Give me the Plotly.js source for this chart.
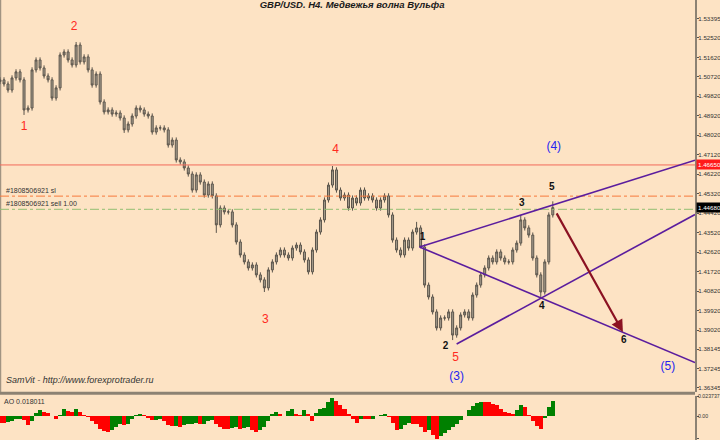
<!DOCTYPE html>
<html>
<head>
<meta charset="utf-8">
<script src="https://cdn.plot.ly/plotly-3.0.1.min.js"></script>
<style>html,body{margin:0;padding:0;background:#FDE3C4;}#chart{width:720px;height:440px;}</style>
</head>
<body>
<div id="chart"></div>
<script>
// ---- Candles (H4 bars) ----
const barOpen = [1.5050,1.5058,1.5039,1.5011,1.5067,1.5095,1.5058,1.4919,1.4928,1.5104,
1.5150,1.5113,1.5076,1.5058,1.4974,1.5021,1.5173,1.5187,1.5150,1.5127,
1.5219,1.5141,1.5164,1.5104,1.5034,1.5085,1.4956,1.4910,1.4919,1.4900,
1.4905,1.4882,1.4827,1.4854,1.4891,1.4928,1.4919,1.4900,1.4891,1.4817,
1.4836,1.4836,1.4827,1.4757,1.4780,1.4688,1.4679,1.4651,1.4623,1.4549,
1.4619,1.4586,1.4526,1.4577,1.4522,1.4388,1.4466,1.4448,1.4448,1.4388,
1.4309,1.4249,1.4217,1.4189,1.4203,1.4157,1.4134,1.4097,1.4180,1.4217,
1.4249,1.4272,1.4249,1.4235,1.4281,1.4295,1.4263,1.4226,1.4171,1.4272,
1.4355,1.4411,1.4503,1.4572,1.4642,1.4549,1.4512,1.4526,1.4466,1.4512,
1.4489,1.4549,1.4512,1.4522,1.4503,1.4466,1.4503,1.4522,1.4434,1.4318,
1.4272,1.4249,1.4318,1.4281,1.4355,1.4374,1.4286,1.4110,1.4055,1.3986,
1.3912,1.3958,1.3958,1.3986,1.3879,1.3912,1.3972,1.3986,1.3958,1.4064,
1.4110,1.4157,1.4189,1.4235,1.4217,1.4263,1.4235,1.4217,1.4217,1.4272,
1.4304,1.4411,1.4374,1.4341,1.4235,1.4157,1.4078,1.4217,1.4434];
const barHigh = [1.5070,1.5070,1.5051,1.5079,1.5107,1.5107,1.5070,1.4940,1.5116,1.5162,
1.5162,1.5125,1.5088,1.5070,1.5033,1.5185,1.5199,1.5199,1.5162,1.5233,
1.5231,1.5176,1.5176,1.5116,1.5097,1.5097,1.4968,1.4931,1.4931,1.4917,
1.4917,1.4894,1.4866,1.4903,1.4940,1.4940,1.4931,1.4912,1.4903,1.4848,
1.4848,1.4848,1.4839,1.4792,1.4792,1.4700,1.4691,1.4663,1.4635,1.4631,
1.4631,1.4598,1.4589,1.4589,1.4534,1.4478,1.4478,1.4460,1.4460,1.4400,
1.4321,1.4261,1.4229,1.4215,1.4215,1.4169,1.4146,1.4192,1.4229,1.4261,
1.4284,1.4284,1.4261,1.4293,1.4307,1.4307,1.4275,1.4238,1.4284,1.4367,
1.4423,1.4515,1.4584,1.4660,1.4654,1.4561,1.4538,1.4538,1.4524,1.4524,
1.4561,1.4561,1.4534,1.4534,1.4515,1.4515,1.4534,1.4534,1.4446,1.4330,
1.4284,1.4330,1.4330,1.4367,1.4402,1.4386,1.4298,1.4122,1.4067,1.3998,
1.3970,1.3970,1.3998,1.3998,1.3924,1.3984,1.3998,1.3998,1.4076,1.4122,
1.4169,1.4201,1.4247,1.4247,1.4275,1.4275,1.4247,1.4229,1.4284,1.4316,
1.4434,1.4423,1.4386,1.4353,1.4247,1.4169,1.4229,1.4446,1.4497];
const barLow = [1.5038,1.5027,1.4999,1.4999,1.5055,1.5046,1.4896,1.4907,1.4916,1.5092,
1.5101,1.5064,1.5046,1.4962,1.4962,1.5009,1.5161,1.5138,1.5115,1.5115,
1.5129,1.5129,1.5092,1.5022,1.5022,1.4944,1.4898,1.4898,1.4888,1.4888,
1.4870,1.4813,1.4815,1.4842,1.4879,1.4907,1.4888,1.4879,1.4805,1.4805,
1.4824,1.4815,1.4745,1.4745,1.4676,1.4667,1.4639,1.4611,1.4537,1.4537,
1.4574,1.4514,1.4514,1.4510,1.4351,1.4376,1.4436,1.4436,1.4376,1.4297,
1.4237,1.4205,1.4177,1.4177,1.4145,1.4122,1.4078,1.4085,1.4168,1.4205,
1.4237,1.4237,1.4223,1.4223,1.4269,1.4251,1.4214,1.4159,1.4159,1.4260,
1.4343,1.4399,1.4491,1.4560,1.4537,1.4500,1.4500,1.4454,1.4454,1.4477,
1.4477,1.4500,1.4500,1.4491,1.4454,1.4454,1.4491,1.4422,1.4306,1.4260,
1.4237,1.4237,1.4269,1.4269,1.4343,1.4280,1.4098,1.4043,1.3974,1.3900,
1.3900,1.3946,1.3946,1.3856,1.3867,1.3900,1.3960,1.3946,1.3946,1.4052,
1.4098,1.4145,1.4177,1.4205,1.4205,1.4223,1.4205,1.4205,1.4205,1.4260,
1.4292,1.4362,1.4329,1.4223,1.4145,1.4050,1.4066,1.4205,1.4422];
const barClose = [1.5058,1.5039,1.5011,1.5067,1.5095,1.5058,1.4919,1.4928,1.5104,1.5150,
1.5113,1.5076,1.5058,1.4974,1.5021,1.5173,1.5187,1.5150,1.5127,1.5219,
1.5141,1.5164,1.5104,1.5034,1.5085,1.4956,1.4910,1.4919,1.4900,1.4905,
1.4882,1.4827,1.4854,1.4891,1.4928,1.4919,1.4900,1.4891,1.4817,1.4836,
1.4836,1.4827,1.4757,1.4780,1.4688,1.4679,1.4651,1.4623,1.4549,1.4619,
1.4586,1.4526,1.4577,1.4522,1.4388,1.4466,1.4448,1.4448,1.4388,1.4309,
1.4249,1.4217,1.4189,1.4203,1.4157,1.4134,1.4097,1.4180,1.4217,1.4249,
1.4272,1.4249,1.4235,1.4281,1.4295,1.4263,1.4226,1.4171,1.4272,1.4355,
1.4411,1.4503,1.4572,1.4642,1.4549,1.4512,1.4526,1.4466,1.4512,1.4489,
1.4549,1.4512,1.4522,1.4503,1.4466,1.4503,1.4522,1.4434,1.4318,1.4272,
1.4249,1.4318,1.4281,1.4355,1.4374,1.4286,1.4110,1.4055,1.3986,1.3912,
1.3958,1.3958,1.3986,1.3879,1.3912,1.3972,1.3986,1.3958,1.4064,1.4110,
1.4157,1.4189,1.4235,1.4217,1.4263,1.4235,1.4217,1.4217,1.4272,1.4304,
1.4411,1.4374,1.4341,1.4235,1.4157,1.4078,1.4217,1.4434,1.4468];

// ---- Awesome Oscillator ----
const aoValues = [-0.0075,-0.0075,-0.0072,-0.0057,-0.0038,-0.0026,-0.0049,-0.0106,-0.0057,0.0038,
0.0075,0.0057,0.0038,0.0000,-0.0026,0.0019,0.0094,0.0064,0.0049,0.0087,
0.0057,0.0019,-0.0004,-0.0057,-0.0094,-0.0151,-0.0177,-0.0189,-0.0162,-0.0132,
-0.0087,-0.0102,-0.0087,-0.0038,0.0011,0.0034,0.0019,-0.0019,-0.0049,-0.0041,
-0.0026,-0.0057,-0.0102,-0.0117,-0.0113,-0.0124,-0.0109,-0.0094,-0.0087,-0.0079,
-0.0094,-0.0087,-0.0057,-0.0049,-0.0094,-0.0124,-0.0147,-0.0147,-0.0139,-0.0132,
-0.0151,-0.0143,-0.0132,-0.0162,-0.0189,-0.0170,-0.0132,-0.0057,0.0026,0.0057,
0.0026,0.0004,0.0064,0.0087,0.0026,0.0019,0.0072,0.0026,-0.0057,0.0038,
0.0087,0.0102,0.0170,0.0222,0.0189,0.0139,0.0094,0.0026,-0.0026,-0.0075,
-0.0026,-0.0026,-0.0038,-0.0026,0.0008,0.0019,0.0026,-0.0011,-0.0075,-0.0170,
-0.0151,-0.0102,-0.0075,-0.0087,-0.0094,-0.0132,-0.0189,-0.0170,-0.0226,-0.0275,
-0.0238,-0.0200,-0.0162,-0.0132,-0.0094,-0.0049,0.0000,0.0075,0.0124,0.0162,
0.0177,0.0177,0.0170,0.0151,0.0132,0.0094,0.0057,0.0038,0.0026,0.0075,
0.0132,0.0113,0.0019,-0.0057,-0.0113,-0.0151,-0.0019,0.0113,0.0180];

// ---- Price axis ticks ----
const priceTicks = [1.53395,1.52520,1.51620,1.50720,1.49820,1.48920,1.48020,1.47120,1.46220,1.45320,
1.44420,1.43520,1.42620,1.41720,1.40820,1.39920,1.39020,1.38145,1.37245,1.36345];
const priceTickText = ['1.53395','1.52520','1.51620','1.50720','1.49820','1.48920','1.48020','1.47120','1.46220','1.45320',
'1.44420','1.43520','1.42620','1.41720','1.40820','1.39920','1.39020','1.38145','1.37245','1.36345'];
const aoTicks = [0.023737, 0, -0.027121];
const aoTickText = ['0.023737','0.00','-0.027121'];

// ---- Levels ----
const resistLevel = 1.4665;
const slLevel = 1.4521;
const sellLevel = 1.4460;
const bidPrice = 1.4468;

// ---- Wolfe wave lines (bar index, price) ----
const line13X = [104.75, 173.5];
const line13Y = [1.4286, 1.4687];
const line14X = [104.75, 173.5];
const line14Y = [1.4286, 1.3752];
const line24X = [114, 173.5];
const line24Y = [1.3838, 1.4436];
const arrowX = [138.75, 155.5];
const arrowY = [1.4448, 1.3893];

// ---- Wave labels ----
const redLabelX = [6, 18.5, 66.25, 83.75, 113.75];
const redLabelY = [1.4840, 1.5302, 1.3949, 1.4734, 1.3773];
const redLabelText = ['1','2','3','4','5'];
const blackLabelX = [105.5, 111.25, 130.25, 135.25, 137.75, 155.75];
const blackLabelY = [1.4332, 1.3824, 1.4485, 1.4009, 1.4559, 1.3852];
const blackLabelText = ['1','2','3','4','5','6'];
const blueLabelX = [114, 138.25, 166.75];
const blueLabelY = [1.3685, 1.4748, 1.3732];
const blueLabelText = ['(3)','(4)','(5)'];

const xRange = [0, 173.5];
const FONT = 'Liberation Sans, Arial, sans-serif';
const BG = '#FDE3C4';

const barIdx = barClose.map((_, i) => i);
const aoColors = aoValues.map((v, i) => (i > 0 && v > aoValues[i-1]) ? '#008000' : '#FF0000');

const traces = [
  {type:'scatter', mode:'lines', x:xRange, y:[resistLevel,resistLevel], line:{color:'#F2695A', width:1}, hoverinfo:'skip'},
  {type:'scatter', mode:'lines', x:xRange, y:[slLevel,slLevel], line:{color:'#F7793C', width:1, dash:'dashdot'}, hoverinfo:'skip'},
  {type:'scatter', mode:'lines', x:xRange, y:[sellLevel,sellLevel], line:{color:'#93BF72', width:1, dash:'dashdot'}, hoverinfo:'skip'},
  {type:'candlestick', x:barIdx, open:barOpen, high:barHigh, low:barLow, close:barClose,
   increasing:{line:{color:'#5a544b', width:1}, fillcolor:'#a79e8e'},
   decreasing:{line:{color:'#5a544b', width:1}, fillcolor:'#a79e8e'},
   whiskerwidth:0, hoverinfo:'skip'},
  {type:'scatter', mode:'lines', x:line13X, y:line13Y, line:{color:'#5B1D9E', width:1.6}, hoverinfo:'skip'},
  {type:'scatter', mode:'lines', x:line14X, y:line14Y, line:{color:'#5B1D9E', width:1.6}, hoverinfo:'skip'},
  {type:'scatter', mode:'lines', x:line24X, y:line24Y, line:{color:'#5B1D9E', width:1.6}, hoverinfo:'skip'},
  {type:'scatter', mode:'text', x:redLabelX, y:redLabelY, text:redLabelText, textfont:{family:FONT, size:12, color:'#FF2A1E'}, hoverinfo:'skip'},
  {type:'scatter', mode:'text', x:blackLabelX, y:blackLabelY, text:blackLabelText, textfont:{family:FONT, size:10, color:'#111', weight:'bold'}, hoverinfo:'skip'},
  {type:'scatter', mode:'text', x:blueLabelX, y:blueLabelY, text:blueLabelText, textfont:{family:FONT, size:12, color:'#2424F0'}, hoverinfo:'skip'},
  {type:'bar', x:barIdx, y:aoValues, xaxis:'x2', yaxis:'y2', width:1, marker:{color:aoColors, line:{width:0}}, hoverinfo:'skip'}
];

const axisFont = {family:FONT, size:6.2, color:'#333'};
const aoAxisFont = {family:FONT, size:5.2, color:'#333'};

const layout = {
  width:720, height:440,
  paper_bgcolor:BG, plot_bgcolor:BG,
  margin:{l:0, r:25, t:0, b:0},
  showlegend:false,
  bargap:0,
  font:{family:FONT, color:'#222'},
  title:{text:'GBP/USD. H4. Медвежья волна Вульфа', x:0.489, xanchor:'center', y:0.997, yanchor:'top',
         font:{family:FONT, size:9.5, weight:'bold', style:'italic', color:'#1a1a1a'}},
  xaxis:{domain:[0,1], range:xRange, visible:false, showgrid:false, zeroline:false, rangeslider:{visible:false}, fixedrange:true},
  xaxis2:{domain:[0,1], anchor:'y2', range:xRange, visible:false, showgrid:false, zeroline:false, fixedrange:true},
  yaxis:{domain:[0.1091,1], range:[1.3616,1.5427], side:'right', tickvals:priceTicks, ticktext:priceTickText,
         tickfont:axisFont, ticks:'outside', ticklen:2, tickcolor:'#555', ticklabelstandoff:-2,
         showgrid:false, zeroline:false, showline:true, linecolor:'#8c8273', linewidth:2, fixedrange:true},
  yaxis2:{domain:[0,0.1000], range:[-0.0285,0.0245], side:'right', tickvals:aoTicks, ticktext:aoTickText,
          tickfont:aoAxisFont, ticks:'outside', ticklen:2, tickcolor:'#555', ticklabelstandoff:-2,
          showgrid:false, zeroline:false, showline:true, linecolor:'#8c8273', linewidth:2, fixedrange:true},
  shapes:[
    {type:'line', layer:'below', xref:'paper', yref:'paper', x0:0, x1:1, y0:0.1063, y1:0.1063, line:{color:'#8c8273', width:3}},
    {type:'line', layer:'below', xref:'paper', yref:'paper', x0:0.001, x1:0.001, y0:0.1091, y1:1, line:{color:'#8c8273', width:1}}
  ],
  annotations:[
    {xref:'x', yref:'y', x:arrowX[1], y:arrowY[1], ax:arrowX[0], ay:arrowY[0], axref:'x', ayref:'y',
     text:'', showarrow:true, arrowhead:2, arrowsize:1.1, arrowwidth:2.2, arrowcolor:'#8B1222'},
    {xref:'paper', yref:'y', x:1, xanchor:'left', xshift:1, y:resistLevel, text:'1.46650', showarrow:false,
     bgcolor:'#FF1A1A', font:{family:FONT, size:6.2, color:'#fff'}, borderpad:1},
    {xref:'paper', yref:'y', x:1, xanchor:'left', xshift:1, y:bidPrice, text:'1.44680', showarrow:false,
     bgcolor:'#000', font:{family:FONT, size:6.2, color:'#fff'}, borderpad:1},
    {xref:'paper', yref:'y', x:0.006, xanchor:'left', y:slLevel, yanchor:'bottom', text:'#1808506921 sl', showarrow:false,
     font:{family:FONT, size:7, color:'#333'}},
    {xref:'paper', yref:'y', x:0.006, xanchor:'left', y:sellLevel, yanchor:'bottom', text:'#1808506921 sell 1.00', showarrow:false,
     font:{family:FONT, size:7, color:'#333'}},
    {xref:'paper', yref:'paper', x:0.006, xanchor:'left', y:0.136, yanchor:'middle', text:'SamVit - http://www.forexprotrader.ru', showarrow:false,
     font:{family:FONT, size:9, style:'italic', color:'#333'}},
    {xref:'paper', yref:'paper', x:0.003, xanchor:'left', y:0.0995, yanchor:'top', text:'AO 0.018011', showarrow:false,
     font:{family:FONT, size:7, color:'#333'}}
  ]
};

Plotly.newPlot('chart', traces, layout, {staticPlot:true, displayModeBar:false});
</script>
</body>
</html>
